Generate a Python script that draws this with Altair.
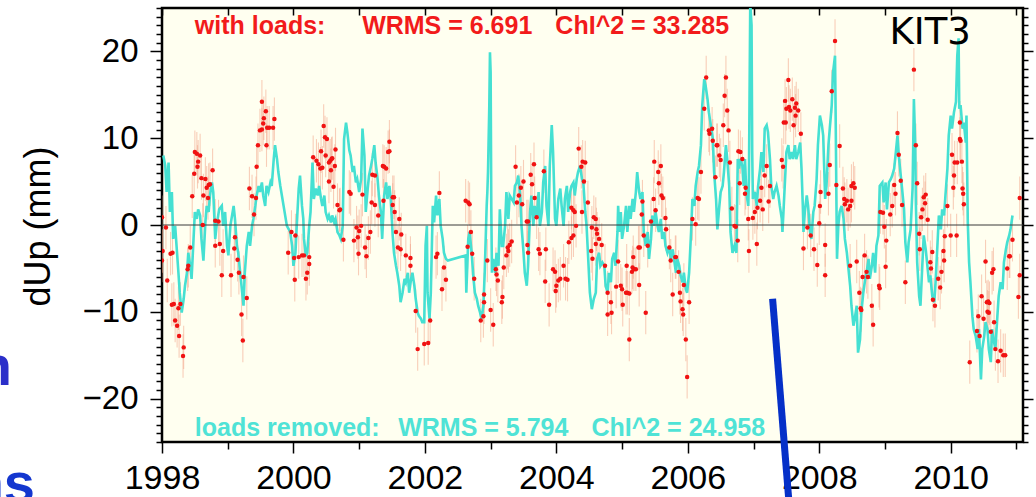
import altair as alt
import pandas as pd

# ---------------- data: (decimal year, dUp mm) ----------------
CYAN_A = [(1998.02, 8.0), (1998.05, 6.8), (1998.07, 3.8), (1998.10, 7.2), (1998.12, 1.5), (1998.15, 3.8),
          (1998.17, -1.6), (1998.20, -0.1), (1998.25, -5.5), (1998.27, -7.8), (1998.30, -10.1), (1998.33, -8.5),
          (1998.35, -7.0), (1998.38, -5.5), (1998.40, -3.2), (1998.43, -4.7), (1998.45, -6.2), (1998.48, -1.6),
          (1998.50, 1.5), (1998.53, 0.7), (1998.55, 1.8), (1998.58, 1.1), (1998.60, -1.6), (1998.63, -4.1),
          (1998.66, 0.3), (1998.68, 2.2), (1998.71, 1.5), (1998.73, 3.4), (1998.76, 4.9), (1998.78, 3.8),
          (1998.81, -1.6), (1998.83, -0.1), (1998.87, 1.8), (1998.91, 2.2), (1998.93, -0.1), (1998.96, 1.5),
          (1998.99, -2.4), (1999.01, -3.5), (1999.04, -0.1), (1999.09, 2.2), (1999.11, 0.7), (1999.14, -2.4),
          (1999.16, -3.2), (1999.19, -5.5), (1999.21, -7.0), (1999.24, -9.3), (1999.26, -5.5), (1999.29, -2.4),
          (1999.32, -0.8), (1999.34, -2.4), (1999.37, -0.1), (1999.39, 0.7), (1999.42, 2.2), (1999.44, 3.4),
          (1999.47, 4.5), (1999.49, 3.8), (1999.52, 4.9), (1999.54, 3.4), (1999.57, 2.2), (1999.59, 4.5),
          (1999.62, 3.8), (1999.65, 4.9), (1999.67, 4.5), (1999.70, 7.6), (1999.72, 9.2), (1999.75, 7.6),
          (1999.77, 6.1), (1999.80, 4.5), (1999.85, 2.2), (1999.90, -0.1), (1999.95, -0.8), (1999.98, -2.4),
          (2000.00, -4.7), (2000.03, -3.2), (2000.05, -0.1), (2000.08, 4.2), (2000.10, 5.7), (2000.13, 2.2),
          (2000.15, 0.7)]
CYAN_B = [(2000.16, -1.6), (2000.19, -3.6), (2000.21, -3.2), (2000.24, -0.1), (2000.26, 1.5), (2000.29, 7.2),
          (2000.31, 3.0), (2000.34, 4.2), (2000.37, 3.4), (2000.39, 4.5), (2000.42, 3.0), (2000.44, 2.2),
          (2000.47, 3.4), (2000.49, 1.5), (2000.52, 0.7), (2000.54, 1.1), (2000.57, 0.3), (2000.59, 1.1),
          (2000.62, 0.3), (2000.64, 0.7), (2000.67, -0.8), (2000.70, -1.2), (2000.72, -1.6), (2000.75, -0.1),
          (2000.77, 9.9), (2000.80, 11.8), (2000.82, 10.7), (2000.85, 8.6), (2000.87, 8.0), (2000.90, 6.1),
          (2000.92, 6.8), (2000.95, 4.9), (2000.97, 5.3), (2001.00, 3.8), (2001.03, 5.3), (2001.05, 11.1),
          (2001.08, 8.0), (2001.10, 1.5), (2001.13, 4.2), (2001.15, 5.7), (2001.18, 6.8), (2001.20, 7.6),
          (2001.23, 9.2), (2001.25, 7.2), (2001.28, 5.3), (2001.30, 3.4), (2001.33, 1.5), (2001.35, -1.6),
          (2001.38, 3.4), (2001.41, 4.9), (2001.43, 3.0), (2001.46, 4.5), (2001.48, 3.0), (2001.51, -1.2),
          (2001.53, -3.2), (2001.56, -4.7), (2001.58, -5.5), (2001.61, -7.0), (2001.63, -8.9), (2001.66, -7.8),
          (2001.69, -6.2), (2001.71, -6.6), (2001.74, -5.5), (2001.76, -7.8), (2001.79, -6.2), (2001.81, -5.5),
          (2001.84, -7.0), (2001.86, -8.5), (2001.89, -10.1), (2001.91, -10.5), (2001.94, -10.8), (2001.96, -11.2),
          (2001.99, -11.2), (2002.01, -2.4), (2002.03, -0.1), (2002.04, -7.8), (2002.07, -10.8), (2002.09, -7.8),
          (2002.12, 2.2), (2002.14, 0.3), (2002.17, 3.4), (2002.19, 1.1), (2002.22, 3.0), (2002.24, -0.1),
          (2002.27, -1.6), (2002.29, -3.2), (2002.32, -3.9), (2002.35, -4.1)]
CYAN_C = [(2002.62, -3.5), (2002.63, -7.8), (2002.66, -1.6), (2002.68, -0.8), (2002.71, -3.1), (2002.74, -6.2),
          (2002.76, -7.8), (2002.79, -8.5), (2002.81, -9.3), (2002.84, -10.1), (2002.86, -10.8), (2002.89, -9.3),
          (2002.91, -5.5), (2002.94, 2.2), (2002.95, 3.8), (2002.96, 6.1), (2002.98, 13.8), (2002.99, 19.9),
          (2003.00, 17.6), (2003.01, 2.2), (2003.02, -5.5), (2003.04, -3.9), (2003.07, -5.5), (2003.09, -3.2),
          (2003.12, -4.7), (2003.14, 1.8), (2003.17, -2.4), (2003.19, -2.4), (2003.22, -0.1), (2003.24, 3.8),
          (2003.27, 0.7), (2003.29, 3.4), (2003.32, 3.0), (2003.35, 2.6), (2003.37, 4.5), (2003.40, 4.9),
          (2003.42, 5.7), (2003.45, 3.4), (2003.47, -0.1), (2003.50, -3.1), (2003.52, -5.5), (2003.55, -7.0),
          (2003.57, -4.7), (2003.60, 1.5), (2003.62, 3.4), (2003.65, -0.1), (2003.67, 2.2), (2003.70, 0.7),
          (2003.73, 3.8), (2003.75, -0.1), (2003.78, 1.5), (2003.80, 4.9), (2003.83, 6.8), (2003.85, 2.2),
          (2003.88, -0.1), (2003.90, 6.8), (2003.93, 11.5), (2003.95, 8.4), (2003.98, 0.7), (2004.00, -0.1),
          (2004.03, 3.0), (2004.06, 4.2), (2004.08, 2.2), (2004.11, -0.1), (2004.13, 3.0), (2004.16, 4.5),
          (2004.18, 1.5), (2004.21, 3.8), (2004.23, 4.5), (2004.26, 4.9), (2004.28, 3.4), (2004.31, 5.3),
          (2004.33, 6.1), (2004.36, 6.8), (2004.39, 5.3), (2004.41, 4.9), (2004.44, 1.5), (2004.46, -0.1),
          (2004.49, -4.7), (2004.51, -7.8), (2004.54, -9.7)]
CYAN_D = [(2004.57, -8.5), (2004.60, -7.8), (2004.62, -3.9), (2004.65, -3.2), (2004.67, -4.7), (2004.70, -4.3),
          (2004.73, -4.7), (2004.75, -7.0), (2004.78, -7.8), (2004.80, -5.5), (2004.83, -6.6), (2004.85, -3.9),
          (2004.88, -3.2), (2004.90, -4.7), (2004.93, -0.8), (2004.94, 2.2), (2004.96, -0.8), (2004.98, 1.5),
          (2005.00, -1.6), (2005.03, -0.1), (2005.06, 2.2), (2005.08, -0.8), (2005.11, 2.2), (2005.13, 0.7),
          (2005.16, 3.0), (2005.18, 1.5), (2005.21, 3.8), (2005.23, 6.1), (2005.26, 3.8), (2005.28, 3.0),
          (2005.31, 3.8), (2005.33, -0.8), (2005.36, -2.4), (2005.39, -0.8), (2005.41, -3.9), (2005.44, -1.6),
          (2005.46, 1.1), (2005.49, -0.1), (2005.51, 1.5), (2005.54, -0.1), (2005.56, -0.8), (2005.59, 0.7),
          (2005.61, -1.6), (2005.64, -0.8), (2005.66, -2.4), (2005.69, -3.2), (2005.72, -2.4), (2005.74, -3.9),
          (2005.77, -2.8), (2005.79, -3.9), (2005.82, -5.5), (2005.84, -3.9), (2005.87, -4.7), (2005.89, -5.8),
          (2005.92, -6.6), (2005.94, -5.5), (2005.97, -7.4), (2005.99, -7.8), (2006.02, -5.5), (2006.05, -0.8),
          (2006.07, 3.0), (2006.10, 2.2), (2006.12, 4.5), (2006.15, 6.1), (2006.17, 6.8), (2006.20, 9.2),
          (2006.22, 13.8), (2006.25, 16.8), (2006.27, 16.1), (2006.30, 14.5), (2006.32, 13.0), (2006.35, 11.5),
          (2006.38, 10.0), (2006.40, 6.1), (2006.43, 3.0), (2006.45, -0.5), (2006.48, 2.2), (2006.50, 3.8),
          (2006.53, 4.5), (2006.55, 6.1), (2006.58, 9.2), (2006.60, 7.6), (2006.63, 4.5), (2006.65, -0.8),
          (2006.68, -3.2), (2006.71, -2.4)]
CYAN_E = [(2006.74, -3.2), (2006.76, 7.6), (2006.78, 6.5), (2006.80, 7.6), (2006.83, 6.8), (2006.85, 4.5),
          (2006.87, 7.6), (2006.89, 3.8), (2006.92, 2.2), (2006.93, 5.3), (2006.95, 25.5), (2006.97, 23.0),
          (2006.98, 8.4), (2006.99, 3.0), (2007.02, 3.8), (2007.05, 2.2), (2007.07, 4.5), (2007.10, 6.5),
          (2007.12, 8.4), (2007.15, 6.1), (2007.17, 11.1), (2007.20, 11.5), (2007.22, 10.7), (2007.25, 7.6),
          (2007.27, 4.5), (2007.30, 3.0), (2007.32, 3.8), (2007.35, 4.5), (2007.38, 3.4), (2007.40, 2.2),
          (2007.43, 0.7), (2007.44, -0.8), (2007.46, 2.2), (2007.48, 5.3), (2007.50, 8.4), (2007.53, 9.2),
          (2007.55, 7.6), (2007.58, 8.4), (2007.60, 7.6), (2007.63, 9.2), (2007.65, 7.6), (2007.68, 8.4),
          (2007.71, 9.5), (2007.73, 6.5), (2007.75, 2.2), (2007.76, -0.8), (2007.78, 1.5), (2007.81, 3.4),
          (2007.83, 2.2), (2007.86, -0.8), (2007.88, -1.6), (2007.91, 1.5), (2007.93, 2.2), (2007.96, 5.3),
          (2007.98, 9.2), (2008.01, 12.6), (2008.04, 11.5), (2008.06, 10.3), (2008.09, 3.0), (2008.11, 4.5),
          (2008.14, 9.2), (2008.16, 11.1), (2008.19, 13.8), (2008.21, 17.6), (2008.24, 19.5), (2008.25, 12.2),
          (2008.26, 3.8), (2008.27, -3.9), (2008.29, -0.1), (2008.31, 1.5), (2008.34, 2.2), (2008.37, 0.7),
          (2008.39, -1.6), (2008.42, -3.2), (2008.44, -4.7), (2008.47, -7.0), (2008.49, -9.3), (2008.52, -11.6),
          (2008.54, -10.8), (2008.57, -9.3), (2008.59, -14.7), (2008.62, -13.2), (2008.64, -10.1), (2008.67, -7.8),
          (2008.70, -6.2), (2008.72, -5.5), (2008.75, -3.9), (2008.77, -6.2), (2008.80, -4.7), (2008.82, -3.2),
          (2008.85, -5.5), (2008.87, -2.4), (2008.90, -1.2), (2008.92, 4.5)]
CYAN_F = [(2008.96, 4.9), (2008.98, 2.6), (2009.01, 4.9), (2009.03, 1.8), (2009.06, 4.9), (2009.09, 5.3),
          (2009.11, 5.7), (2009.14, 6.5), (2009.16, 8.0), (2009.19, 10.3), (2009.21, 8.0), (2009.24, 5.7),
          (2009.26, 4.2), (2009.29, 1.8), (2009.31, -2.0), (2009.34, -4.3), (2009.36, -2.0), (2009.39, -0.5),
          (2009.42, 4.2), (2009.44, 14.5), (2009.46, 9.2), (2009.47, 2.6), (2009.49, -4.3), (2009.52, -8.2),
          (2009.54, -9.3), (2009.57, -4.3), (2009.59, -1.2), (2009.62, -2.8), (2009.64, -4.3), (2009.67, -6.6),
          (2009.69, -5.8), (2009.72, -8.2), (2009.75, -8.9), (2009.77, -6.6), (2009.80, -2.0), (2009.82, 1.1),
          (2009.85, -0.5), (2009.87, 1.8), (2009.90, 1.1), (2009.92, 3.4), (2009.95, 6.5), (2009.97, 10.3),
          (2010.00, 12.6), (2010.02, 11.1), (2010.05, 13.0), (2010.08, 14.2), (2010.10, 19.5), (2010.12, 21.5),
          (2010.13, 13.4), (2010.15, 13.8), (2010.18, 11.1), (2010.20, 11.8), (2010.23, 9.5), (2010.24, 12.6),
          (2010.26, 0.3), (2010.28, -4.3), (2010.30, -6.6), (2010.33, -10.5), (2010.35, -12.0), (2010.38, -12.8),
          (2010.41, -14.3), (2010.43, -12.0), (2010.46, -17.8), (2010.48, -14.3), (2010.51, -12.8), (2010.53, -11.2),
          (2010.56, -12.0), (2010.58, -14.3), (2010.61, -15.8), (2010.63, -12.0), (2010.66, -13.5), (2010.68, -14.3),
          (2010.71, -10.5), (2010.73, -8.2), (2010.76, -6.6), (2010.79, -7.4), (2010.81, -4.3), (2010.84, -2.8),
          (2010.86, -2.0), (2010.89, -1.2), (2010.91, -0.5), (2010.94, 1.1)]

RED_A = [(1998.00, 0.9), (1998.06, -0.3), (1998.01, -3.0), (1998.00, -4.1), (1998.08, -6.4), (1998.13, -3.3),
         (1998.16, -3.2), (1998.15, -9.2), (1998.18, -9.1), (1998.20, -11.0), (1998.23, -11.6), (1998.26, -12.8),
         (1998.33, -14.1), (1998.32, -15.1), (1998.25, -9.6), (1998.28, -9.1), (1998.39, -5.1), (1998.40, -4.7),
         (1998.43, -2.6), (1998.46, 3.3), (1998.49, 5.9), (1998.50, 8.4), (1998.53, 8.2), (1998.58, 8.0),
         (1998.55, 7.3), (1998.54, 6.7), (1998.60, 5.4), (1998.66, 5.3), (1998.63, 3.4), (1998.68, 4.3),
         (1998.71, 4.6), (1998.73, 4.7), (1998.70, 3.1), (1998.77, 6.3), (1998.62, 0.0), (1998.81, 0.5),
         (1998.86, 0.4), (1998.81, -2.4), (1998.88, -2.2), (1998.93, -3.0), (1998.91, -5.8), (1999.05, -5.8),
         (1999.11, -1.4), (1999.10, -2.7), (1999.15, -4.0), (1999.17, -5.5), (1999.24, -6.0), (1999.29, -8.4),
         (1999.21, -10.3), (1999.23, -13.3), (1999.33, 4.2), (1999.37, 3.3), (1999.43, 3.1), (1999.44, 6.7),
         (1999.40, 1.2), (1999.46, 9.2), (1999.49, 10.9), (1999.52, 11.0), (1999.54, 11.7), (1999.55, 12.3),
         (1999.58, 13.1), (1999.52, 14.2), (1999.60, 11.2), (1999.63, 11.2), (1999.69, 11.2), (1999.71, 12.2),
         (1999.59, 9.2), (1999.92, -3.2), (1999.97, -0.8), (2000.01, -3.8), (2000.02, -6.3), (2000.03, -1.2),
         (2000.08, -3.7), (2000.13, -3.5)]
RED_B = [(2000.16, -3.5), (2000.19, -6.2), (2000.21, -5.5), (2000.24, -3.7), (2000.24, -4.5), (2000.30, 7.8),
         (2000.35, 7.4), (2000.38, 7.0), (2000.41, 6.5), (2000.42, 8.5), (2000.44, 6.6), (2000.46, 11.4),
         (2000.48, 10.1), (2000.51, 9.9), (2000.49, 8.0), (2000.54, 7.2), (2000.56, 7.4), (2000.58, 7.6),
         (2000.57, 6.3), (2000.59, 7.7), (2000.63, 6.8), (2000.64, 8.7), (2000.54, 5.0), (2000.61, 4.4),
         (2000.67, 2.3), (2000.70, 1.7), (2000.71, 1.8), (2000.76, -1.7), (2000.85, 3.8), (2000.87, 3.6),
         (2000.92, -1.8), (2000.96, -0.3), (2000.98, -1.4), (2001.00, -0.7), (2000.99, -3.3), (2001.03, -0.1),
         (2001.05, 3.5), (2001.09, -2.6), (2001.11, -3.6), (2001.14, -1.5), (2001.17, -0.8), (2001.20, 5.8),
         (2001.24, 5.7), (2001.19, 2.6), (2001.24, 2.3), (2001.29, 1.1), (2001.36, 6.8), (2001.38, 6.7),
         (2001.41, 6.5), (2001.44, 8.4), (2001.46, 9.6), (2001.46, 8.5), (2001.37, 2.8), (2001.51, 3.2),
         (2001.53, 3.2), (2001.51, 2.3), (2001.54, 1.5), (2001.61, 0.7), (2001.56, -0.8), (2001.64, -1.1),
         (2001.59, -2.6), (2001.63, -2.8), (2001.71, -3.5), (2001.78, -3.8), (2001.78, -4.7), (2001.86, -9.9),
         (2001.89, -14.3), (2001.99, -13.7), (2002.05, -13.6), (2002.08, -11.0), (2002.19, -3.3), (2002.17, -3.7),
         (2002.22, 3.7), (2002.26, -7.4), (2002.29, -4.9), (2002.32, -6.3)]
RED_C = [(2002.62, 2.8), (2002.66, 2.6), (2002.68, 2.4), (2002.70, -0.8), (2002.65, -2.5), (2002.72, -3.3),
         (2002.75, -6.2), (2002.85, -11.0), (2002.89, -10.5), (2002.90, -8.0), (2002.90, -8.9), (2003.00, -9.8),
         (2003.04, -11.5), (2002.95, -4.1), (2003.09, -5.7), (2003.11, -6.4), (2003.08, -5.1), (2003.17, -8.9),
         (2003.18, -8.3), (2003.20, -4.9), (2003.24, -3.5), (2003.27, -3.0), (2003.29, -2.3), (2003.32, -1.9),
         (2003.26, -2.6), (2003.38, 6.7), (2003.40, 2.6), (2003.43, 3.4), (2003.46, 4.3), (2003.48, 2.4),
         (2003.50, 5.0), (2003.61, 5.8), (2003.63, 4.7), (2003.66, 7.0), (2003.67, 3.1), (2003.55, 0.4),
         (2003.57, 0.4), (2003.56, -2.3), (2003.57, -3.2), (2003.70, 0.9), (2003.73, -2.8), (2003.75, -3.3),
         (2003.81, 6.2), (2003.84, -2.8), (2003.83, -6.5), (2003.89, -9.2), (2003.95, -5.1), (2003.98, -5.4),
         (2004.00, -7.0), (2003.99, -7.6), (2004.03, -6.4), (2004.06, -6.2), (2004.11, -4.7), (2004.14, -6.2),
         (2004.17, -6.3), (2004.19, -2.0), (2004.23, -1.5), (2004.26, -1.2), (2004.23, 2.0), (2004.26, 1.7),
         (2004.28, 1.5), (2004.30, -0.1), (2004.34, 8.8), (2004.38, 6.7), (2004.40, 7.3), (2004.44, 7.2),
         (2004.42, 5.0), (2004.48, 2.6), (2004.39, 1.5), (2004.54, -0.3), (2004.53, -3.0), (2004.55, -3.9)]
RED_D = [(2004.57, 0.9), (2004.60, 0.7), (2004.61, -0.5), (2004.62, -1.0), (2004.65, -1.6), (2004.69, -2.3),
         (2004.60, -2.2), (2004.74, -4.7), (2004.78, -7.8), (2004.78, -10.3), (2004.83, -8.9), (2004.84, -10.1),
         (2004.91, -7.1), (2004.94, -4.2), (2004.98, -7.0), (2005.00, -7.4), (2005.01, -9.2), (2005.06, -7.8),
         (2005.08, -7.8), (2005.11, -7.9), (2005.07, -4.7), (2005.11, -13.2), (2005.15, -5.4), (2005.16, -4.9),
         (2005.17, -3.7), (2005.18, -5.1), (2005.21, -5.1), (2005.25, -2.6), (2005.27, -2.6), (2005.26, -6.9),
         (2005.30, 1.2), (2005.31, 2.7), (2005.33, -1.2), (2005.36, -10.1), (2005.39, -2.4), (2005.44, 0.4),
         (2005.48, 3.0), (2005.51, 1.7), (2005.49, 7.3), (2005.55, 6.1), (2005.59, 6.8), (2005.56, 4.8),
         (2005.60, 3.4), (2005.62, 3.1), (2005.66, 0.8), (2005.67, -0.5), (2005.72, -2.6), (2005.74, -4.1),
         (2005.77, -8.0), (2005.81, -3.7), (2005.82, -3.7), (2005.86, -5.4), (2005.88, -7.8), (2005.89, -8.8),
         (2005.92, -9.7), (2005.93, -10.3), (2005.94, -6.9), (2005.97, -13.2), (2005.99, -17.5), (2006.02, -8.9),
         (2006.07, 0.7), (2006.12, 0.1), (2006.15, 3.1), (2006.17, 3.0), (2006.20, 6.1), (2006.25, 13.4),
         (2006.28, 17.0), (2006.32, 10.9), (2006.33, 10.5), (2006.37, 11.1), (2006.38, 9.7), (2006.42, 5.5),
         (2006.44, 9.2), (2006.45, 9.2), (2006.48, 8.0), (2006.50, 7.5), (2006.54, 11.5), (2006.56, 14.9),
         (2006.58, 17.0), (2006.60, 13.2), (2006.62, 10.9), (2006.64, 7.2), (2006.67, 1.9), (2006.71, -0.1),
         (2006.73, -0.2), (2006.76, -1.8)]
RED_E = [(2006.77, 8.5), (2006.80, 8.4), (2006.83, 7.6), (2006.79, 4.8), (2006.87, 3.6), (2006.88, 4.3),
         (2006.92, 0.7), (2006.93, -3.0), (2006.99, 0.8), (2007.02, 1.5), (2007.05, -2.2), (2007.06, 2.0),
         (2007.10, 2.8), (2007.12, 4.3), (2007.14, 1.8), (2007.17, 5.7), (2007.20, 6.8), (2007.25, 4.5),
         (2007.23, 2.7), (2007.43, 7.5), (2007.45, 6.7), (2007.46, 11.8), (2007.49, 11.8), (2007.48, 14.3),
         (2007.53, 16.7), (2007.50, 13.4), (2007.54, 13.6), (2007.56, 13.2), (2007.59, 14.5), (2007.61, 11.5),
         (2007.63, 13.5), (2007.65, 14.0), (2007.64, 12.6), (2007.68, 13.2), (2007.72, 10.5), (2007.76, -2.7),
         (2007.82, -0.3), (2007.87, -1.2), (2007.92, -2.8), (2007.97, -4.6), (2008.00, 0.2), (2008.01, 2.2),
         (2008.02, 3.8), (2008.09, -2.3), (2008.09, -5.8), (2008.14, 3.6), (2008.16, 6.9), (2008.19, 15.4),
         (2008.24, 21.2), (2008.26, 4.6), (2008.31, 9.1), (2008.36, 4.2), (2008.38, 3.0), (2008.39, 2.4),
         (2008.42, 2.8), (2008.44, 1.8), (2008.47, 2.2), (2008.49, 4.5), (2008.52, 4.8), (2008.54, 4.3),
         (2008.49, 2.8), (2008.47, -4.7), (2008.57, -4.2), (2008.61, -7.8), (2008.63, -9.6), (2008.66, -6.0),
         (2008.69, -3.5), (2008.72, -5.4), (2008.74, -6.0), (2008.64, -9.8), (2008.80, -9.3), (2008.82, -11.5),
         (2008.91, -7.0), (2008.92, -7.3)]
RED_F = [(2008.93, 1.5), (2008.97, 1.4), (2008.99, -0.2), (2009.02, -1.8), (2009.01, -4.8), (2009.08, 1.2),
         (2009.11, 2.2), (2009.14, 4.6), (2009.16, 3.6), (2009.19, 10.6), (2009.21, 8.1), (2009.24, 5.1),
         (2009.26, 2.3), (2009.31, -6.6), (2009.44, 17.9), (2009.47, 9.2), (2009.49, 4.8), (2009.52, -1.0),
         (2009.53, -2.8), (2009.55, 0.9), (2009.57, 1.8), (2009.59, 3.2), (2009.62, 3.5), (2009.61, 2.5),
         (2009.65, 0.6), (2009.69, -4.3), (2009.72, -3.1), (2009.70, -5.0), (2009.73, -8.6), (2009.76, -9.3),
         (2009.81, -6.2), (2009.84, -7.2), (2009.86, -5.4), (2009.89, -3.0), (2009.90, -4.1), (2009.91, -1.3),
         (2009.95, 2.2), (2010.00, -1.2), (2010.04, 4.3), (2010.05, 5.7), (2010.06, 7.2), (2010.02, 8.1),
         (2010.09, -1.2), (2010.10, 7.2), (2010.14, 11.8), (2010.15, 9.7), (2010.17, 7.3), (2010.19, 3.6),
         (2010.20, 2.4), (2010.18, 4.2), (2010.14, 9.9), (2010.29, -15.8), (2010.40, -12.2), (2010.42, -10.5),
         (2010.44, -12.8), (2010.47, -8.2), (2010.50, -10.8), (2010.53, -4.2), (2010.55, -8.9), (2010.57, -8.8),
         (2010.59, -9.0), (2010.58, -10.1), (2010.61, -12.3), (2010.56, -10.0), (2010.63, -5.5), (2010.65, -5.1),
         (2010.66, -11.2), (2010.68, -14.3), (2010.72, -15.7), (2010.76, -14.5), (2010.80, -15.0), (2010.83, -15.0),
         (2010.86, -5.0), (2010.89, -3.6), (2010.90, -3.6), (2010.94, -1.7), (2011.05, 3.1), (2011.05, -5.8),
         (2011.03, -8.3)]

ERR_MM = 2.5                      # typical half-length of the faint error bars
X_DOMAIN = [1998, 2011.1]
Y_DOMAIN = [-25, 25]
YEAR_TICKS = list(range(1998, 2012))
MM_TICKS = list(range(-25, 26))

TOP_LABELS = ["with loads:", "WRMS = 6.691", "ChI^2 = 33.285"]
TOP_T = [1998.50, 2001.045, 2003.985]
TOP_V = [22.0, 22.0, 22.0]
BOT_LABELS = ["loads removed:", "WRMS = 5.794", "ChI^2 = 24.958"]
BOT_T = [1998.50, 2001.594, 2004.533]
BOT_V = [-24.3, -24.3, -24.3]
STATION = "KIT3"
STATION_T, STATION_V = 2009.07, 20.9
SLASH_T = [2007.29, 2007.54]
SLASH_V = [-8.5, -32.0]

# ---------------- tables ----------------
cyan = pd.DataFrame(CYAN_A + CYAN_B + CYAN_C + CYAN_D + CYAN_E + CYAN_F, columns=["t", "v"])
red = pd.DataFrame(RED_A + RED_B + RED_C + RED_D + RED_E + RED_F, columns=["t", "v"])
red["lo"] = red["v"] - ERR_MM
red["hi"] = red["v"] + ERR_MM

FONT = "Liberation Sans"
xs = alt.Scale(domain=X_DOMAIN, nice=False, zero=False)
ys = alt.Scale(domain=Y_DOMAIN, nice=False, zero=False)

x_bottom = alt.Axis(orient="bottom", values=YEAR_TICKS, format="d", title=None, domain=False,
                    labelExpr="datum.value % 2 === 0 ? datum.label : ''",
                    tickSize={"condition": {"test": "datum.value % 2 === 0", "value": 11}, "value": 7},
                    tickColor="black", tickWidth=1.5, labelFont=FONT, labelFontSize=34,
                    labelColor="black", labelPadding=8, labelOverlap=False, labelFlush=False,
                    grid=False)
y_left = alt.Axis(orient="left", values=MM_TICKS, format="d", title="dUp (mm)", domain=False,
                  labelExpr="datum.value % 10 === 0 ? datum.label : ''",
                  tickSize={"condition": {"test": "datum.value % 10 === 0", "value": 12}, "value": 6},
                  tickColor="black", tickWidth=1.5, labelFont=FONT, labelFontSize=33,
                  labelColor="black", labelPadding=12, labelOverlap=False, grid=False,
                  titleFont=FONT, titleFontSize=36, titleFontWeight="normal", titleColor="black",
                  titleAngle=270, titleX=-124, titleY=218, titleAlign="center", titleBaseline="middle")
x_top = alt.Axis(orient="top", values=YEAR_TICKS, title=None, domain=False, labels=False,
                 tickSize=7, tickWidth=1.5, tickColor="black", offset=-7, grid=False)
y_right = alt.Axis(orient="right", values=MM_TICKS, title=None, domain=False, labels=False,
                   tickSize={"condition": {"test": "datum.value % 10 === 0", "value": 10}, "value": 5},
                   tickWidth=1.5, tickColor="black", grid=False)

line = alt.Chart(cyan).mark_line(color="#45E0D2", strokeWidth=2.6, clip=True).encode(
    x=alt.X("t:Q", scale=xs, axis=x_bottom),
    y=alt.Y("v:Q", scale=ys, axis=y_left),
    order="t:Q",
)

err = alt.Chart(red).mark_rule(color="#F2A58A", strokeWidth=1.1, opacity=0.55, clip=True).encode(
    x=alt.X("t:Q", scale=xs, axis=None),
    y=alt.Y("lo:Q", scale=ys, axis=None),
    y2="hi:Q",
)

pts = alt.Chart(red).mark_circle(color="#F01212", size=20, opacity=1, clip=True).encode(
    x=alt.X("t:Q", scale=xs, axis=x_top),
    y=alt.Y("v:Q", scale=ys, axis=y_right),
)

zero = alt.Chart(pd.DataFrame({"v": [0]})).mark_rule(color="#3a3a3a", strokeWidth=1).encode(
    y=alt.Y("v:Q", scale=ys, axis=None),
)

top_txt = alt.Chart(pd.DataFrame({"t": TOP_T, "v": TOP_V, "s": TOP_LABELS})).mark_text(
    align="left", baseline="alphabetic", font=FONT, fontSize=25, fontWeight="bold", color="#F21B1B"
).encode(x=alt.X("t:Q", scale=xs, axis=None), y=alt.Y("v:Q", scale=ys, axis=None), text="s:N")

bot_txt = alt.Chart(pd.DataFrame({"t": BOT_T, "v": BOT_V, "s": BOT_LABELS})).mark_text(
    align="left", baseline="alphabetic", font=FONT, fontSize=25, fontWeight="bold", color="#4FE3D6"
).encode(x=alt.X("t:Q", scale=xs, axis=None), y=alt.Y("v:Q", scale=ys, axis=None), text="s:N")

station = alt.Chart(pd.DataFrame({"t": [STATION_T], "v": [STATION_V], "s": [STATION]})).mark_text(
    align="left", baseline="alphabetic", font="DejaVu Sans", fontSize=37, color="black"
).encode(x=alt.X("t:Q", scale=xs, axis=None), y=alt.Y("v:Q", scale=ys, axis=None), text="s:N")

slash = alt.Chart(pd.DataFrame({"t": [SLASH_T[0]], "v": [SLASH_V[0]], "t2": [SLASH_T[1]], "v2": [SLASH_V[1]]})).mark_rule(
    color="#0530C8", strokeWidth=7, clip=False
).encode(x=alt.X("t:Q", scale=xs, axis=None), y=alt.Y("v:Q", scale=ys, axis=None), x2="t2:Q", y2="v2:Q")

frag1 = alt.Chart(pd.DataFrame({"s": ["n"]})).mark_text(
    align="right", baseline="alphabetic", font=FONT, fontSize=56, fontWeight="bold", color="#2B2FC9"
).encode(x=alt.value(-150), y=alt.value(377), text="s:N")
frag2 = alt.Chart(pd.DataFrame({"s": ["ns"]})).mark_text(
    align="right", baseline="alphabetic", font=FONT, fontSize=56, fontWeight="bold", color="#1437CF"
).encode(x=alt.value(-127), y=alt.value(494), text="s:N")

chart = alt.layer(err, line, zero, pts, top_txt, bot_txt, station, slash, frag1, frag2).resolve_axis(
    x="independent", y="independent"
).properties(
    width=861, height=434,
    autosize=alt.AutoSizeParams(type="none"),
    padding={"left": 162, "top": 8, "right": 13, "bottom": 55},
    background="white",
).configure_view(
    fill="#FFFFF0", stroke="black", strokeWidth=2.5
)

chart.save("out.html", embed_options={"renderer": "svg", "actions": False})
